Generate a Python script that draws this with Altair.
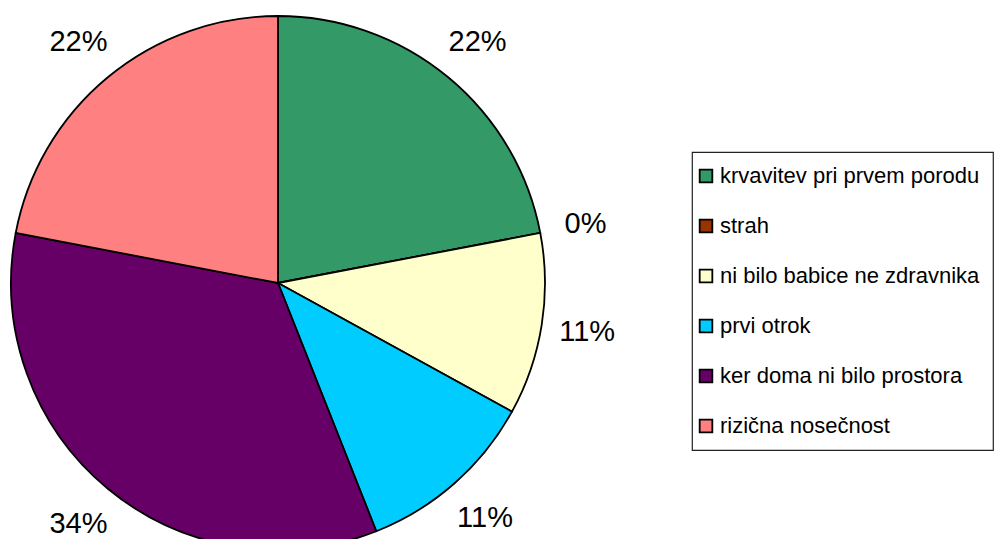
import altair as alt
import pandas as pd

categories = [
    "krvavitev pri prvem porodu",
    "strah",
    "ni bilo babice ne zdravnika",
    "prvi otrok",
    "ker doma ni bilo prostora",
    "rizična nosečnost",
]
values = [22, 0, 11, 11, 34, 22]
colors = ["#339966", "#993300", "#FFFFCC", "#00CCFF", "#660066", "#FF8080"]

df = pd.DataFrame({
    "cat": categories,
    "value": values,
    "order": list(range(len(categories))),
    "label": [f"{v}%" for v in values],
})

FONT = "Liberation Sans"
CX, CY = 270, 275

base = alt.Chart(df).encode(
    theta=alt.Theta("value:Q", stack=True),
    order=alt.Order("order:Q"),
)

arcs = base.mark_arc(radius=267, stroke="black", strokeWidth=1.8).encode(
    x=alt.value(CX),
    y=alt.value(CY),
    color=alt.Color(
        "cat:N",
        scale=alt.Scale(domain=categories, range=colors),
        sort=categories,
        legend=alt.Legend(
            title=None,
            orient="none",
            legendX=684,
            legendY=144,
            symbolType="square",
            symbolSize=160,
            symbolStrokeColor="black",
            symbolStrokeWidth=1.8,
            symbolOffset=-10,
            labelFont=FONT,
            labelFontSize=22,
            labelColor="black",
            labelOffset=3,
            labelLimit=400,
            rowPadding=28,
            padding=13,
            fillColor="white",
            strokeColor="#222222",
        ),
    ),
)

labels = base.mark_text(
    radius=313, font=FONT, fontSize=29, color="black", align="center", baseline="middle"
).encode(
    x=alt.value(CX),
    y=alt.value(CY),
    text="label:N",
)

chart = (
    alt.layer(arcs, labels)
    .properties(width=989, height=531, autosize=alt.AutoSizeParams(type="none"), padding=0)
    .configure_view(strokeWidth=0)
    .configure_legend(strokeWidth=1.2)
)

chart.save("out.html", embed_options={"renderer": "svg", "actions": False})
